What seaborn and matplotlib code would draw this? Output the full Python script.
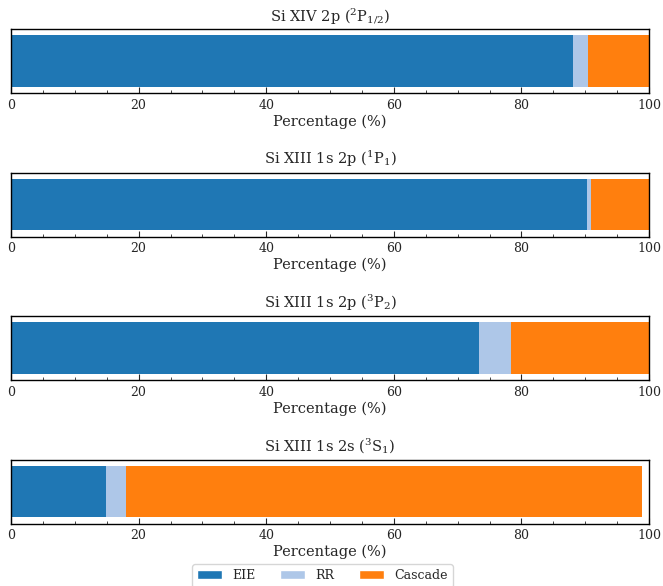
import matplotlib
matplotlib.use("Agg")
import matplotlib.pyplot as plt
import seaborn as sns
import pandas as pd
from matplotlib.ticker import MultipleLocator
from matplotlib.patches import Patch

titles = [r"Si XIV 2p ($^2$P$_{1/2}$)",
          r"Si XIII 1s 2p ($^1$P$_1$)",
          r"Si XIII 1s 2p ($^3$P$_2$)",
          r"Si XIII 1s 2s ($^3$S$_1$)"]
components = ["EIE", "RR", "Cascade"]
eie = [88.1, 90.3, 73.4, 14.9]
rr = [2.3, 0.6, 5.0, 3.1]
cascade = [9.6, 9.1, 21.6, 80.9]
colors = ["#1f77b4", "#aec7e8", "#ff7f0e"]

sns.set_style("ticks")
plt.rcParams["font.family"] = ["DejaVu Serif"]
plt.rcParams["mathtext.fontset"] = "dejavuserif"

W, H = 663, 586
fig = plt.figure(figsize=(W / 100, H / 100), dpi=100)

left, right = 11, 649
ax_h = 64
step = 143.5
for i in range(4):
    top = 29 + step * i
    ax = fig.add_axes([left / W, 1 - (top + ax_h) / H, (right - left) / W, ax_h / H])
    # stacked bars drawn as cumulative overlays (largest first)
    cum = [eie[i], eie[i] + rr[i], eie[i] + rr[i] + cascade[i]]
    for k in (2, 1, 0):
        df = pd.DataFrame({"y": [""], "x": [cum[k]]})
        sns.barplot(data=df, x="x", y="y", orient="h", color=colors[k], ax=ax,
                    width=0.8, saturation=1, linewidth=0, edgecolor="none")
    ax.set_xlim(0, 100)
    ax.set_ylim(0.5, -0.5)
    ax.set_title(titles[i], fontsize=10.5, pad=6)
    ax.set_xlabel("Percentage (%)", fontsize=10.5, labelpad=2)
    ax.set_ylabel("")
    ax.set_yticks([0])
    ax.set_yticklabels([""])
    ax.xaxis.set_major_locator(MultipleLocator(20))
    ax.xaxis.set_minor_locator(MultipleLocator(5))
    ax.tick_params(axis="x", which="both", direction="in", labelsize=9, pad=4)
    ax.tick_params(axis="x", which="major", length=4)
    ax.tick_params(axis="x", which="minor", length=2)
    ax.tick_params(axis="y", direction="in", length=5)
    for s in ax.spines.values():
        s.set_visible(True)
        s.set_linewidth(1.0)
        s.set_color("black")

handles = [Patch(facecolor=c, label=n) for c, n in zip(colors, components)]
fig.legend(handles=handles, loc="upper center", ncol=3,
           bbox_to_anchor=(322.5 / W, 1 - 564 / H), fontsize=9,
           frameon=True, handlelength=2.0, handletextpad=0.8,
           columnspacing=2.0, borderaxespad=0)

fig.savefig("out.png", dpi=100)
